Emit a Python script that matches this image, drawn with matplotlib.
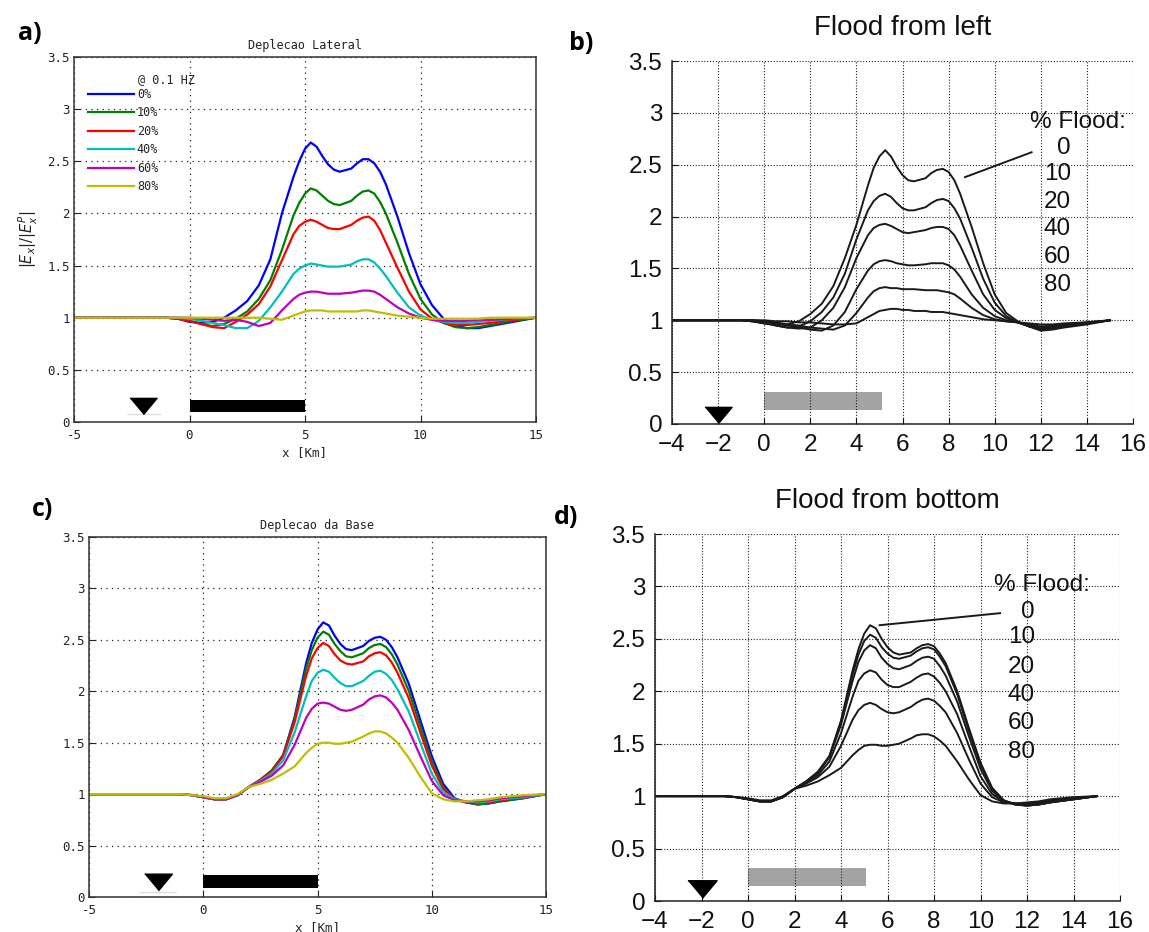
import matplotlib
matplotlib.use('Agg')
import matplotlib.pyplot as plt

# ---------------- data ----------------
x_ac = [-5, -1, -0.5, 0, 0.5, 1, 1.5, 2, 2.5, 3, 3.5, 4, 4.5, 4.75, 5, 5.25, 5.5, 5.75, 6, 6.25,
        6.5, 7, 7.25, 7.5, 7.75, 8, 8.25, 8.5, 9, 9.5, 10, 10.5, 11, 11.5, 12, 12.5, 13, 14, 15]
x_bd = [-4, -1, -0.5, 0, 0.5, 1, 1.5, 2, 2.5, 3, 3.5, 4, 4.5, 4.75, 5, 5.25, 5.5, 5.75, 6, 6.25,
        6.5, 7, 7.25, 7.5, 7.75, 8, 8.25, 8.5, 9, 9.5, 10, 10.5, 11, 11.5, 12, 12.5, 13, 14, 15]

legend_labels = ['0%', '10%', '20%', '40%', '60%', '80%']
flood_labels = ['0', '10', '20', '40', '60', '80']
matlab_colors = ['#0000ff', '#008000', '#ff0000', '#00bfbf', '#bf00bf', '#bfbf00']

# a) Deplecao Lateral
a_0 = [1, 1, 0.99, 0.96, 0.95, 0.96, 1.0, 1.07, 1.16, 1.31, 1.56, 2.0, 2.35, 2.5, 2.62, 2.68, 2.64, 2.55, 2.47, 2.42,
       2.4, 2.43, 2.48, 2.52, 2.52, 2.48, 2.4, 2.28, 1.97, 1.62, 1.32, 1.12, 0.99, 0.93, 0.9, 0.9, 0.92, 0.96, 1.0]
a_10 = [1, 1, 0.99, 0.97, 0.94, 0.92, 0.94, 0.99, 1.06, 1.18, 1.36, 1.65, 1.98, 2.1, 2.19, 2.24, 2.22, 2.17, 2.12, 2.09,
        2.08, 2.12, 2.17, 2.21, 2.22, 2.19, 2.11, 2.0, 1.72, 1.42, 1.18, 1.03, 0.95, 0.91, 0.9, 0.91, 0.93, 0.97, 1.0]
a_20 = [1, 1, 0.99, 0.97, 0.94, 0.91, 0.9, 0.96, 1.03, 1.13, 1.3, 1.55, 1.8, 1.88, 1.92, 1.94, 1.92, 1.89, 1.86, 1.85,
        1.85, 1.89, 1.93, 1.96, 1.97, 1.93, 1.84, 1.72, 1.48, 1.25, 1.08, 0.99, 0.95, 0.93, 0.93, 0.94, 0.95, 0.98, 1.0]
a_40 = [1, 1, 1.0, 0.99, 0.97, 0.95, 0.93, 0.9, 0.9, 0.97, 1.1, 1.25, 1.42, 1.47, 1.5, 1.52, 1.51, 1.5, 1.49, 1.49,
        1.49, 1.51, 1.54, 1.56, 1.56, 1.53, 1.47, 1.4, 1.24, 1.1, 1.02, 0.98, 0.96, 0.95, 0.95, 0.96, 0.97, 0.99, 1.0]
a_60 = [1, 1, 1, 1.0, 0.99, 0.98, 0.97, 0.98, 0.96, 0.92, 0.95, 1.07, 1.18, 1.22, 1.24, 1.25, 1.25, 1.24, 1.23, 1.23,
        1.23, 1.24, 1.25, 1.26, 1.26, 1.25, 1.22, 1.18, 1.1, 1.04, 1.0, 0.98, 0.97, 0.97, 0.97, 0.98, 0.98, 0.99, 1.0]
a_80 = [1, 1, 1, 1, 1, 1, 1, 1, 1, 1.0, 0.99, 0.98, 1.02, 1.04, 1.06, 1.07, 1.07, 1.07, 1.06, 1.06,
        1.06, 1.06, 1.06, 1.07, 1.07, 1.06, 1.05, 1.04, 1.02, 1.01, 1.0, 0.99, 0.99, 0.99, 0.99, 0.99, 1.0, 1.0, 1.0]

# b) Flood from left
b_0 = [1, 1, 0.99, 0.97, 0.96, 0.96, 0.99, 1.06, 1.16, 1.33, 1.6, 1.92, 2.3, 2.47, 2.58, 2.64, 2.58, 2.48, 2.4, 2.35,
       2.34, 2.37, 2.42, 2.45, 2.46, 2.43, 2.35, 2.22, 1.9, 1.55, 1.25, 1.07, 0.99, 0.94, 0.9, 0.91, 0.93, 0.96, 1.0]
b_10 = [1, 1, 0.99, 0.97, 0.95, 0.93, 0.94, 0.99, 1.08, 1.22, 1.45, 1.78, 2.06, 2.15, 2.2, 2.22, 2.19, 2.13, 2.08, 2.06,
        2.06, 2.09, 2.13, 2.16, 2.17, 2.15, 2.08, 1.98, 1.7, 1.4, 1.17, 1.04, 0.98, 0.94, 0.91, 0.92, 0.94, 0.97, 1.0]
b_20 = [1, 1, 0.99, 0.98, 0.95, 0.93, 0.92, 0.93, 1.0, 1.12, 1.32, 1.6, 1.82, 1.89, 1.92, 1.93, 1.91, 1.88, 1.85, 1.84,
        1.85, 1.87, 1.89, 1.9, 1.9, 1.88, 1.82, 1.72, 1.48, 1.25, 1.1, 1.02, 0.98, 0.94, 0.92, 0.93, 0.95, 0.97, 1.0]
b_40 = [1, 1, 1, 0.99, 0.97, 0.95, 0.93, 0.91, 0.9, 0.95, 1.08, 1.3, 1.48, 1.54, 1.57, 1.58, 1.57, 1.55, 1.54, 1.53,
        1.53, 1.54, 1.55, 1.55, 1.55, 1.53, 1.49, 1.42, 1.25, 1.12, 1.04, 1.0, 0.98, 0.95, 0.93, 0.94, 0.95, 0.97, 1.0]
b_60 = [1, 1, 1, 0.99, 0.98, 0.96, 0.95, 0.93, 0.92, 0.91, 0.95, 1.07, 1.22, 1.28, 1.31, 1.32, 1.31, 1.31, 1.3, 1.3,
        1.3, 1.29, 1.29, 1.29, 1.28, 1.27, 1.25, 1.21, 1.12, 1.05, 1.01, 0.99, 0.98, 0.96, 0.94, 0.95, 0.96, 0.98, 1.0]
b_80 = [1, 1, 1, 1, 0.99, 0.99, 0.98, 0.98, 0.97, 0.96, 0.96, 0.97, 1.03, 1.06, 1.09, 1.1, 1.11, 1.11, 1.1, 1.1,
        1.09, 1.09, 1.08, 1.08, 1.08, 1.07, 1.06, 1.05, 1.03, 1.01, 1.0, 0.99, 0.98, 0.97, 0.96, 0.96, 0.97, 0.98, 1.0]

# c) Deplecao da Base
c_0 = [1, 1, 0.99, 0.97, 0.95, 0.95, 0.99, 1.07, 1.14, 1.23, 1.38, 1.75, 2.27, 2.47, 2.6, 2.67, 2.64, 2.54, 2.46, 2.41,
       2.4, 2.44, 2.49, 2.52, 2.53, 2.5, 2.43, 2.33, 2.07, 1.72, 1.37, 1.1, 0.96, 0.92, 0.9, 0.91, 0.93, 0.96, 1.0]
c_10 = [1, 1, 0.99, 0.97, 0.95, 0.95, 0.99, 1.07, 1.14, 1.23, 1.38, 1.73, 2.22, 2.4, 2.52, 2.58, 2.55, 2.46, 2.39, 2.34,
        2.33, 2.37, 2.42, 2.45, 2.46, 2.43, 2.36, 2.26, 2.0, 1.66, 1.32, 1.07, 0.95, 0.92, 0.9, 0.91, 0.93, 0.96, 1.0]
c_20 = [1, 1, 0.99, 0.97, 0.95, 0.95, 0.99, 1.07, 1.14, 1.22, 1.37, 1.7, 2.15, 2.32, 2.42, 2.47, 2.44, 2.36, 2.3, 2.27,
        2.26, 2.29, 2.34, 2.37, 2.38, 2.35, 2.28, 2.18, 1.93, 1.6, 1.28, 1.05, 0.95, 0.92, 0.91, 0.92, 0.94, 0.97, 1.0]
c_40 = [1, 1, 0.99, 0.97, 0.95, 0.95, 0.99, 1.07, 1.13, 1.2, 1.33, 1.6, 1.95, 2.1, 2.18, 2.21, 2.19, 2.13, 2.08, 2.05,
        2.05, 2.1, 2.15, 2.19, 2.2, 2.17, 2.11, 2.02, 1.8, 1.5, 1.2, 1.02, 0.95, 0.93, 0.92, 0.93, 0.95, 0.97, 1.0]
c_60 = [1, 1, 0.99, 0.97, 0.95, 0.95, 0.99, 1.07, 1.12, 1.18, 1.28, 1.48, 1.74, 1.83, 1.88, 1.89, 1.88, 1.85, 1.82, 1.81,
        1.82, 1.87, 1.92, 1.95, 1.96, 1.94, 1.89, 1.82, 1.62, 1.37, 1.13, 0.99, 0.94, 0.93, 0.93, 0.94, 0.96, 0.98, 1.0]
c_80 = [1, 1, 0.99, 0.98, 0.96, 0.96, 1.0, 1.07, 1.1, 1.14, 1.2, 1.27, 1.4, 1.45, 1.49, 1.5, 1.5, 1.49, 1.49, 1.5,
        1.51, 1.56, 1.59, 1.61, 1.61, 1.59, 1.55, 1.5, 1.35, 1.17, 1.01, 0.95, 0.93, 0.93, 0.94, 0.95, 0.97, 0.99, 1.0]

# d) Flood from bottom
d_0 = [1, 1, 0.99, 0.97, 0.95, 0.95, 0.99, 1.07, 1.14, 1.23, 1.38, 1.72, 2.2, 2.4, 2.55, 2.63, 2.6, 2.5, 2.42, 2.37,
       2.35, 2.37, 2.41, 2.44, 2.45, 2.43, 2.36, 2.27, 2.0, 1.65, 1.32, 1.08, 0.96, 0.92, 0.91, 0.92, 0.94, 0.97, 1.0]
d_10 = [1, 1, 0.99, 0.97, 0.95, 0.95, 0.99, 1.07, 1.14, 1.23, 1.38, 1.71, 2.16, 2.35, 2.48, 2.54, 2.51, 2.42, 2.36, 2.32,
        2.31, 2.34, 2.38, 2.41, 2.42, 2.4, 2.33, 2.24, 1.97, 1.62, 1.3, 1.07, 0.96, 0.92, 0.91, 0.92, 0.94, 0.97, 1.0]
d_20 = [1, 1, 0.99, 0.97, 0.95, 0.95, 0.99, 1.07, 1.14, 1.22, 1.37, 1.68, 2.1, 2.28, 2.39, 2.44, 2.41, 2.32, 2.26, 2.22,
        2.21, 2.25, 2.29, 2.32, 2.33, 2.31, 2.24, 2.15, 1.9, 1.57, 1.26, 1.05, 0.95, 0.92, 0.91, 0.92, 0.94, 0.97, 1.0]
d_40 = [1, 1, 0.99, 0.97, 0.95, 0.95, 0.99, 1.07, 1.13, 1.2, 1.33, 1.6, 1.95, 2.1, 2.17, 2.2, 2.18, 2.11, 2.06, 2.04,
        2.04, 2.09, 2.13, 2.16, 2.17, 2.14, 2.08, 2.0, 1.78, 1.48, 1.19, 1.02, 0.95, 0.93, 0.92, 0.93, 0.95, 0.97, 1.0]
d_60 = [1, 1, 0.99, 0.97, 0.95, 0.95, 0.99, 1.07, 1.12, 1.18, 1.28, 1.48, 1.73, 1.82, 1.87, 1.89, 1.87, 1.83, 1.8, 1.79,
        1.8, 1.85, 1.89, 1.92, 1.93, 1.91, 1.86, 1.8, 1.6, 1.35, 1.12, 0.99, 0.94, 0.93, 0.93, 0.94, 0.96, 0.98, 1.0]
d_80 = [1, 1, 0.99, 0.98, 0.96, 0.96, 1.0, 1.07, 1.1, 1.14, 1.2, 1.27, 1.39, 1.44, 1.48, 1.49, 1.49, 1.48, 1.48, 1.49,
        1.5, 1.55, 1.58, 1.59, 1.59, 1.57, 1.53, 1.48, 1.33, 1.16, 1.01, 0.95, 0.93, 0.93, 0.94, 0.95, 0.97, 0.99, 1.0]

# receiver and flooded-zone markers
receiver_x = -2
zone_start, zone_end_ac, zone_end_b, zone_end_d = 0, 5, 5.13, 5.09

yticks = [0, 0.5, 1, 1.5, 2, 2.5, 3, 3.5]
ytick_labels = ['0', '0.5', '1', '1.5', '2', '2.5', '3', '3.5']
xticks_ac = [-5, 0, 5, 10, 15]
xtick_labels_ac = ['-5', '0', '5', '10', '15']
xticks_bd = [-4, -2, 0, 2, 4, 6, 8, 10, 12, 14, 16]

W, H = 1149, 932
fig = plt.figure(figsize=(W / 100, H / 100), dpi=100)


def box(l, r, t, b):
    return [l / W, 1 - b / H, (r - l) / W, (b - t) / H]


ax_a = fig.add_axes(box(74, 536, 57, 422))
ax_b = fig.add_axes(box(672, 1133, 61, 424))
ax_c = fig.add_axes(box(89, 546, 537, 897))
ax_d = fig.add_axes(box(655, 1120, 534, 901))

MONO = 'DejaVu Sans Mono'
SANS = 'Liberation Sans'
tri = [(-1, 0.6), (1, 0.6), (0, -0.6)]


def style_matlab(ax, title):
    ax.set_xlim(-5, 15)
    ax.set_ylim(0, 3.5)
    ax.set_xticks(xticks_ac)
    ax.set_xticklabels(xtick_labels_ac)
    ax.set_yticks(yticks)
    ax.set_yticklabels(ytick_labels)
    ax.grid(True, color='#222222', linestyle=(0, (1, 3.5)), linewidth=0.9)
    ax.tick_params(direction='in', length=4, width=0.8, labelsize=9, pad=3,
                   labelfontfamily=MONO, colors='#222222')
    ax.tick_params(axis='x', pad=5)
    for s in ax.spines.values():
        s.set_color('#333333')
        s.set_linewidth(1.1)
    ax.set_title(title, fontfamily=MONO, fontsize=8.5, pad=5.5, color='#222222')
    ax.set_xlabel('x [Km]', fontfamily=MONO, fontsize=9, labelpad=3, color='#222222')


def style_paper(ax, title):
    ax.set_xlim(-4, 16)
    ax.set_ylim(0, 3.5)
    ax.set_xticks(xticks_bd)
    ax.set_xticklabels([str(v).replace('-', '\u2212') for v in xticks_bd])
    ax.set_yticks(yticks)
    ax.set_yticklabels(ytick_labels)
    ax.grid(True, color='#222222', linestyle=(0, (1, 1.6)), linewidth=0.8)
    ax.tick_params(direction='in', length=4, width=0.8, labelsize=17.5, pad=7,
                   labelfontfamily=SANS, colors='#111111')
    ax.spines['top'].set_visible(False)
    ax.spines['right'].set_visible(False)
    for s in ['left', 'bottom']:
        ax.spines[s].set_color('#222222')
        ax.spines[s].set_linewidth(1.1)
    ax.set_title(title, fontfamily=SANS, fontsize=20, pad=18.5, color='#111111')


# ---- a ----
series_a = [a_0, a_10, a_20, a_40, a_60, a_80]
for ys, col, lab in zip(series_a, matlab_colors, legend_labels):
    ax_a.plot(x_ac, ys, color=col, lw=1.6, label=lab)
style_matlab(ax_a, 'Deplecao Lateral')
ax_a.set_ylabel(r'$|E_x|/|E_x^P|$', fontsize=10.5, labelpad=5, color='#222222')
leg = ax_a.legend(loc='upper left', bbox_to_anchor=(0.03, 0.915), frameon=False,
                  prop={'family': MONO, 'size': 8.5}, handlelength=3.9,
                  handletextpad=0.25, labelspacing=0.46, borderpad=0, borderaxespad=0)
for t in leg.get_texts():
    t.set_color('#222222')
ax_a.text(0.139, 0.938, '@ 0.1 HZ', transform=ax_a.transAxes, fontfamily=MONO,
          fontsize=8.5, va='center', ha='left', color='#222222')
ax_a.hlines(0.077, -2.7, -1.25, color='#dddddd', lw=1)
ax_a.plot([receiver_x], [0.155], marker=tri, markersize=19.5, color='black', ls='none')
ax_a.barh(0.155, zone_end_ac - zone_start, height=0.11, left=zone_start, color='black')

# ---- b ----
series_b = [b_0, b_10, b_20, b_40, b_60, b_80]
for ys in series_b:
    ax_b.plot(x_bd, ys, color='#1a1a1a', lw=1.4)
style_paper(ax_b, 'Flood from left')
ax_b.plot([receiver_x], [0.09], marker=tri, markersize=19.5, color='black', ls='none',
          clip_on=False)
ax_b.barh(0.222, zone_end_b - zone_start, height=0.175, left=zone_start, color='#a3a3a3')
ax_b.text(15.7, 2.91, '% Flood:', fontfamily=SANS, fontsize=17.5, ha='right', va='center',
          color='#111111')
for lab, yy in zip(flood_labels, [2.66, 2.41, 2.14, 1.88, 1.61, 1.34]):
    ax_b.text(13.31, yy, lab, fontfamily=SANS, fontsize=17.5, ha='right', va='center',
              color='#111111')
ax_b.plot([11.6, 8.71], [2.62, 2.38], color='#1a1a1a', lw=1.4)

# ---- c ----
series_c = [c_0, c_10, c_20, c_40, c_60, c_80]
for ys, col in zip(series_c, matlab_colors):
    ax_c.plot(x_ac, ys, color=col, lw=1.6)
style_matlab(ax_c, 'Deplecao da Base')
ax_c.hlines(0.045, -2.8, -1.2, color='#dddddd', lw=1)
ax_c.plot([receiver_x], [0.145], marker=tri, markersize=20, color='black', ls='none')
ax_c.barh(0.15, zone_end_ac - zone_start, height=0.12, left=zone_start, color='black')

# ---- d ----
series_d = [d_0, d_10, d_20, d_40, d_60, d_80]
for ys in series_d:
    ax_d.plot(x_bd, ys, color='#1a1a1a', lw=1.4)
style_paper(ax_d, 'Flood from bottom')
ax_d.plot([receiver_x], [0.115], marker=tri, markersize=21, color='black', ls='none',
          clip_on=False)
ax_d.barh(0.228, zone_end_d - zone_start, height=0.164, left=zone_start, color='#a3a3a3')
ax_d.text(14.71, 3.01, '% Flood:', fontfamily=SANS, fontsize=17.5, ha='right', va='center',
          color='#111111')
for lab, yy in zip(flood_labels, [2.755, 2.52, 2.23, 1.96, 1.70, 1.42]):
    ax_d.text(12.34, yy, lab, fontfamily=SANS, fontsize=17.5, ha='right', va='center',
              color='#111111')
ax_d.plot([10.84, 5.66], [2.745, 2.63], color='#1a1a1a', lw=1.4)

# panel letters
for lab, (px, py) in zip(['a)', 'b)', 'c)', 'd)'], [(30, 33), (581, 43), (43, 510), (566, 518)]):
    fig.text(px / W, 1 - py / H, lab, fontfamily='Open Sans', fontweight='bold',
             fontsize=18, ha='center', va='center')

fig.savefig('out.png', dpi=100)
